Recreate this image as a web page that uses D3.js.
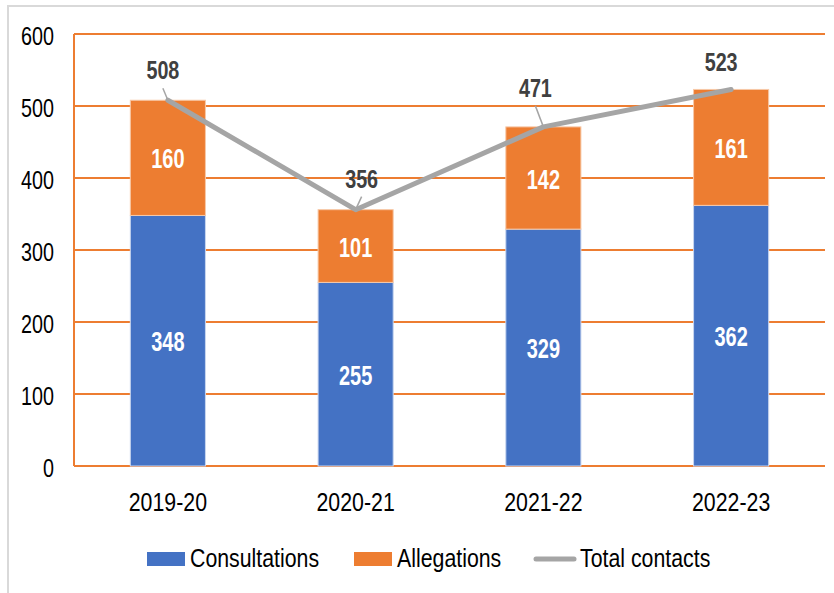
<!DOCTYPE html>
<html>
<head>
<meta charset="utf-8">
<script src="https://cdn.jsdelivr.net/npm/d3@7"></script>
<style>
  body { margin: 0; background: #fff; }
  text { font-family: "Liberation Sans", Arial, sans-serif; }
</style>
</head>
<body>
<svg id="chart" width="834" height="593"></svg>
<script>
// data
var years = ['2019-20', '2020-21', '2021-22', '2022-23'];
var consultations = [348, 255, 329, 362];
var allegations = [160, 101, 142, 161];
var totalContacts = [508, 356, 471, 523];
var yTicks = [0, 100, 200, 300, 400, 500, 600];
// label nudges for the total line (dx, dy from the point)
var totalLabelOffsets = [[-5, -21], [6, -22], [-8, -30], [-10, -18]];

var blue = '#4472C4', orange = '#ED7D31', grey = '#A5A5A5';

var svg = d3.select('#chart');

// narrow text: Liberation Sans squeezed to look like Arial Narrow
function narrowText(g, tx, ty, str, size, sx, anchor) {
  return g.append('text')
    .attr('transform', 'translate(' + tx + ',' + ty + ') scale(' + sx + ',1)')
    .attr('text-anchor', anchor || 'start')
    .attr('font-size', size)
    .text(str);
}

// outer frame
svg.append('rect')
  .attr('x', 8).attr('y', 6)
  .attr('width', 900).attr('height', 700)
  .attr('fill', 'none')
  .attr('stroke', '#d9d9d9')
  .attr('stroke-width', 2);

var x = d3.scaleBand().domain(years).range([74, 825]).paddingInner(0.6).paddingOuter(0.3);
var y = d3.scaleLinear().domain([0, 600]).range([466, 34]);

// gridlines
svg.append('g')
  .selectAll('line')
  .data(yTicks)
  .enter().append('line')
  .attr('x1', 74).attr('x2', 825)
  .attr('y1', function(d) { return y(d); })
  .attr('y2', function(d) { return y(d); })
  .attr('stroke', orange)
  .attr('stroke-width', 2);

svg.append('line')
  .attr('x1', 74).attr('x2', 74)
  .attr('y1', y(600)).attr('y2', y(0))
  .attr('stroke', orange)
  .attr('stroke-width', 2);

// y tick labels
var yl = svg.append('g').attr('fill', '#000');
yTicks.forEach(function(d) {
  narrowText(yl, 54, y(d) + 10.5, d, 25, 0.79, 'end');
});

// x labels
var xl = svg.append('g').attr('fill', '#000');
years.forEach(function(d) {
  narrowText(xl, x(d) + x.bandwidth() / 2, 511, d, 26, 0.82, 'middle');
});

// stacked bars
var bars = svg.append('g');
years.forEach(function(yr, i) {
  var c = consultations[i], a = allegations[i];
  var cx = x(yr) + x.bandwidth() / 2;
  bars.append('rect')
    .attr('x', x(yr)).attr('width', x.bandwidth())
    .attr('y', y(c)).attr('height', y(0) - y(c))
    .attr('fill', blue)
    .attr('stroke', '#c9d6ef').attr('stroke-width', 1);
  bars.append('rect')
    .attr('x', x(yr)).attr('width', x.bandwidth())
    .attr('y', y(c + a)).attr('height', y(c) - y(c + a))
    .attr('fill', orange)
    .attr('stroke', '#f7c9a8').attr('stroke-width', 1);

  narrowText(bars, cx, (y(0) + y(c)) / 2 + 10.5, c, 27, 0.74, 'middle')
    .attr('font-weight', 'bold').attr('fill', '#fff');
  narrowText(bars, cx, (y(c) + y(c + a)) / 2 + 10.5, a, 27, 0.74, 'middle')
    .attr('font-weight', 'bold').attr('fill', '#fff');
});

// total line
var line = d3.line()
  .x(function(d, i) { return x(years[i]) + x.bandwidth() / 2; })
  .y(function(d) { return y(d); });

svg.append('path')
  .datum(totalContacts)
  .attr('d', line)
  .attr('fill', 'none')
  .attr('stroke', grey)
  .attr('stroke-width', 5)
  .attr('stroke-linejoin', 'round')
  .attr('stroke-linecap', 'round');

// total labels with leader lines
totalContacts.forEach(function(v, i) {
  var px = x(years[i]) + x.bandwidth() / 2, py = y(v);
  var o = totalLabelOffsets[i];
  var lx = px + o[0], ly = py + o[1];
  if (i < 3) {
    svg.append('line')
      .attr('x1', lx).attr('y1', ly + 9)
      .attr('x2', px).attr('y2', py)
      .attr('stroke', grey).attr('stroke-width', 1.5);
  }
  narrowText(svg, lx, ly, v, 26, 0.76, 'middle')
    .attr('font-weight', 'bold').attr('fill', '#404040');
});

// legend
var legend = svg.append('g').attr('fill', '#000');
legend.append('rect').attr('x', 147).attr('y', 552).attr('width', 38).attr('height', 14).attr('fill', blue);
narrowText(legend, 190, 567, 'Consultations', 26, 0.82);
legend.append('rect').attr('x', 354).attr('y', 552).attr('width', 38).attr('height', 14).attr('fill', orange);
narrowText(legend, 397, 567, 'Allegations', 26, 0.82);
legend.append('line').attr('x1', 536).attr('x2', 574).attr('y1', 559).attr('y2', 559)
  .attr('stroke', grey).attr('stroke-width', 5).attr('stroke-linecap', 'round');
narrowText(legend, 580, 567, 'Total contacts', 26, 0.82);
</script>
</body>
</html>
